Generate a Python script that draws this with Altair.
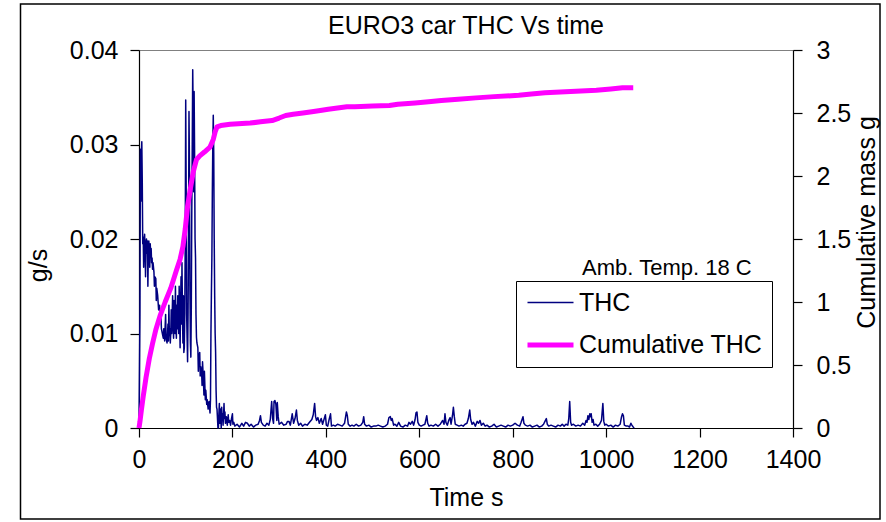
import altair as alt
import pandas as pd

# ---------------- data ----------------
time_s = [
    0, 2, 3, 4, 5, 6, 7, 8, 9, 10, 11, 12, 13, 14, 15, 16, 17, 18, 19, 20,
    21, 22, 23, 24, 25, 26, 27, 28, 29, 30, 32, 33, 34, 36, 37, 38, 40, 42, 44, 45,
    47, 48, 50, 52, 53, 55, 56, 57, 58, 60, 61, 62, 63, 64, 65, 66, 67, 68, 69, 70,
    72, 73, 74, 75, 76, 77, 78, 79, 80, 81, 82, 83, 84, 85, 86, 87, 88, 89, 90, 91,
    92, 93, 94, 95, 96, 97, 98, 99, 100, 101, 102, 103, 104, 105, 106, 107, 108, 109, 110, 111,
    112, 113, 114, 115, 116, 117, 118, 119, 120, 121, 122, 123, 124, 126, 127, 128, 130, 131, 132, 134,
    135, 136, 138, 139, 140, 142, 143, 145, 146, 148, 150, 152, 153, 154, 155, 156, 157, 158, 159, 160,
    161, 162, 163, 164, 165, 166, 167, 168, 169, 170, 171, 172, 173, 174, 175, 176, 177, 178, 179, 180,
    182, 183, 184, 185, 187, 189, 191, 192, 194, 196, 198, 200, 201, 203, 205, 210, 215, 220, 224, 228,
    232, 236, 240, 245, 250, 255, 258, 260, 262, 266, 270, 274, 278, 281, 284, 286, 288, 289, 291, 293,
    295, 296, 298, 300, 305, 310, 315, 318, 321, 324, 328, 331, 334, 337, 339, 342, 346, 350, 355, 360,
    365, 370, 373, 376, 378, 380, 383, 386, 390, 393, 396, 399, 401, 404, 407, 410, 412, 416, 420, 425,
    430, 435, 440, 444, 446, 448, 452, 456, 460, 465, 470, 475, 479, 481, 483, 487, 492, 497, 502, 507,
    512, 517, 522, 527, 532, 535, 538, 540, 542, 545, 548, 552, 556, 560, 565, 570, 575, 578, 581, 585,
    588, 591, 593, 595, 597, 600, 604, 608, 612, 616, 618, 621, 625, 630, 635, 640, 645, 650, 653, 655,
    657, 660, 663, 666, 668, 671, 673, 675, 677, 681, 685, 690, 694, 698, 702, 705, 708, 710, 713, 716,
    720, 724, 727, 730, 733, 737, 741, 745, 750, 755, 760, 765, 770, 775, 780, 785, 790, 795, 800, 805,
    810, 815, 818, 822, 824, 827, 832, 837, 842, 847, 852, 857, 862, 866, 869, 872, 874, 877, 882, 887,
    892, 897, 902, 906, 910, 914, 918, 920, 922, 924, 926, 930, 935, 940, 945, 950, 954, 957, 959, 961,
    963, 965, 967, 968, 970, 972, 974, 978, 982, 986, 990, 993, 995, 997, 1000, 1005, 1010, 1015, 1020, 1025,
    1030, 1033, 1035, 1037, 1039, 1043, 1047, 1050, 1053, 1055, 1058, 1060,
]
thc_gs = [
    0.0, 0.012, 0.0295, 0.024, 0.029, 0.0303, 0.026, 0.0195, 0.0202, 0.017, 0.0195, 0.0205, 0.019, 0.016, 0.0195, 0.02, 0.0185, 0.0198, 0.015, 0.0185,
    0.0198, 0.019, 0.017, 0.0195, 0.0185, 0.019, 0.0175, 0.018, 0.0168, 0.0175, 0.0165, 0.015, 0.016, 0.0158, 0.0135, 0.0148, 0.014, 0.0125, 0.013, 0.012,
    0.0118, 0.0105, 0.01, 0.0095, 0.0105, 0.0092, 0.0108, 0.012, 0.0095, 0.009, 0.0098, 0.011, 0.0092, 0.013, 0.0098, 0.0105, 0.009, 0.01, 0.0125, 0.01,
    0.014, 0.0108, 0.0095, 0.0135, 0.012, 0.01, 0.015, 0.011, 0.0095, 0.013, 0.0105, 0.014, 0.0115, 0.01, 0.015, 0.012, 0.0085, 0.013, 0.016, 0.011,
    0.0175, 0.0125, 0.009, 0.014, 0.008, 0.0085, 0.012, 0.02, 0.0347, 0.025, 0.012, 0.0095, 0.007, 0.012, 0.02, 0.0335, 0.028, 0.015, 0.009, 0.0075,
    0.013, 0.023, 0.03, 0.0379, 0.033, 0.025, 0.0356, 0.029, 0.02, 0.018, 0.012, 0.0096, 0.009, 0.0085, 0.006, 0.0075, 0.008, 0.0055, 0.0065, 0.006,
    0.0045, 0.007, 0.005, 0.0035, 0.006, 0.003, 0.004, 0.0025, 0.003, 0.002, 0.0028, 0.0016, 0.003, 0.01, 0.0143, 0.018, 0.025, 0.03, 0.0331, 0.029,
    0.02, 0.014, 0.01, 0.008, 0.004, 0.0022, 0.002, 0.001, 0.0, 0.0, 0.0015, 0.0026, 0.0005, 0.002, 0.0012, 0.0, 0.0022, 0.0008, 0.0015, 0.0003,
    0.0026, 0.001, 0.0017, 0.0005, 0.0012, 0.0003, 0.0014, 0.0006, 0.0008, 0.0003, 0.001, 0.0015, 0.0004, 0.0006, 0.0002, 0.0004, 0.0001, 0.0005, 0.0002, 0.0006,
    0.0005, 0.0002, 0.0004, 0.0001, 0.0003, 0.0004, 0.0008, 0.0013, 0.0006, 0.0003, 0.0002, 0.0005, 0.0003, 0.0009, 0.0028, 0.001, 0.0005, 0.0028, 0.0029, 0.0025,
    0.0008, 0.0027, 0.0012, 0.0004, 0.0006, 0.0003, 0.0004, 0.0007, 0.0007, 0.0003, 0.0015, 0.0005, 0.001, 0.0019, 0.0008, 0.0003, 0.0005, 0.0002, 0.0004, 0.0003,
    0.0006, 0.0009, 0.0014, 0.0026, 0.0012, 0.0008, 0.0011, 0.0005, 0.001, 0.0004, 0.0009, 0.0014, 0.0003, 0.0002, 0.0009, 0.0015, 0.0002, 0.0003, 0.0002, 0.0004,
    0.0003, 0.0002, 0.0005, 0.0017, 0.0013, 0.0004, 0.0002, 0.0003, 0.0002, 0.0004, 0.0002, 0.0003, 0.0006, 0.0012, 0.0004, 0.0002, 0.0003, 0.0001, 0.0002, 0.0002,
    0.0003, 0.0002, 0.0001, 0.0002, 0.0004, 0.0011, 0.0012, 0.0008, 0.001, 0.0003, 0.0004, 0.0002, 0.0006, 0.0002, 0.0001, 0.0003, 0.0002, 0.0006, 0.0004, 0.0007,
    0.0003, 0.0009, 0.0016, 0.0017, 0.0006, 0.0003, 0.0002, 0.0003, 0.0004, 0.0013, 0.0005, 0.0002, 0.0003, 0.0002, 0.0004, 0.0002, 0.0004, 0.0008, 0.0004, 0.0015,
    0.0006, 0.0003, 0.0008, 0.0011, 0.0004, 0.0013, 0.0022, 0.0012, 0.0004, 0.0003, 0.0002, 0.0003, 0.0002, 0.0004, 0.0005, 0.001, 0.0019, 0.0009, 0.0004, 0.0006,
    0.0002, 0.0007, 0.0005, 0.0008, 0.0003, 0.0005, 0.0002, 0.0003, 0.0001, 0.0002, 0.0004, 0.0001, 0.0002, 0.0003, 0.0002, 0.0001, 0.0003, 0.0002, 0.0003, 0.0005,
    0.0003, 0.0002, 0.0006, 0.0012, 0.0005, 0.0003, 0.0002, 0.0003, 0.0001, 0.0002, 0.0003, 0.0001, 0.0002, 0.0004, 0.0007, 0.001, 0.0004, 0.0002, 0.0003, 0.0002,
    0.0001, 0.0003, 0.0002, 0.0004, 0.0002, 0.0004, 0.0003, 0.001, 0.0028, 0.0006, 0.0003, 0.0004, 0.0002, 0.0003, 0.0002, 0.0005, 0.0003, 0.0008, 0.0006, 0.0013,
    0.0009, 0.0015, 0.0012, 0.0015, 0.0006, 0.0009, 0.0003, 0.0004, 0.0002, 0.0004, 0.0008, 0.0026, 0.0007, 0.0003, 0.0004, 0.0002, 0.0003, 0.0001, 0.0003, 0.0002,
    0.0004, 0.0012, 0.0015, 0.0013, 0.0003, 0.0002, 0.0002, 0.0001, 0.0005, 0.0003, 0.0001, 0.0,
]

cum_time_s = [
    0, 2, 5, 9, 15, 22, 29, 36, 45, 56, 68, 80, 88, 94, 99, 104, 110, 116, 123, 130,
    140, 152, 159, 163, 167, 175, 195, 238, 260, 285, 300, 314, 330, 351, 370, 388, 405, 425, 445, 462,
    500, 536, 554, 591, 620, 647, 683, 721, 760, 813, 840, 869, 924, 979, 1010, 1035, 1058,
]
cum_mass_g = [
    0.0, 0.05, 0.14, 0.25, 0.40, 0.55, 0.67, 0.78, 0.89, 1.00, 1.11, 1.25, 1.34, 1.44, 1.58, 1.76, 1.90, 2.03, 2.13, 2.16,
    2.19, 2.23, 2.29, 2.35, 2.39, 2.40, 2.41, 2.42, 2.43, 2.44, 2.46, 2.48, 2.49, 2.50, 2.51, 2.52, 2.53, 2.54, 2.55, 2.55,
    2.555, 2.56, 2.57, 2.58, 2.59, 2.60, 2.61, 2.62, 2.63, 2.64, 2.65, 2.66, 2.67, 2.68, 2.69, 2.70, 2.70,
]

series_names = ["THC", "Cumulative THC"]
series_colors = ["#000080", "#FF00FF"]
series_widths = [1.5, 5]

x_ticks = [0, 200, 400, 600, 800, 1000, 1200, 1400]
left_ticks = [0, 0.01, 0.02, 0.03, 0.04]
right_ticks = [0, 0.5, 1, 1.5, 2, 2.5, 3]

note_text = ["Amb. Temp. 18 C"]
note_t = [1130]
note_v = [0.0169]

# ---------------- chart ----------------
FONT = "Liberation Sans"
FS = 25

thc_df = pd.DataFrame({"t": time_s, "v": thc_gs, "series": "THC"})
cum_df = pd.DataFrame({"t": cum_time_s, "v": cum_mass_g, "series": "Cumulative THC"})
note_df = pd.DataFrame({"t": note_t, "v": note_v, "label": note_text})
frame_df = pd.DataFrame({"k": [0]})

legend_common = dict(
    title=None, orient="none", legendX=377, legendY=231,
    symbolType="M-1,0L3,0", symbolSize=529, symbolStrokeWidth=1.5,
    labelFont=FONT, labelFontSize=FS, labelColor="black", labelOffset=26,
    labelLimit=0, fillColor="white", strokeColor="black", padding=9,
    rowPadding=15, cornerRadius=0,
)

color = alt.Color("series:N",
                  scale=alt.Scale(domain=series_names, range=series_colors),
                  legend=alt.Legend(**legend_common))
width_enc = alt.StrokeWidth("series:N",
                            scale=alt.Scale(domain=series_names, range=series_widths),
                            legend=alt.Legend(**legend_common))

x_enc = alt.X("t:Q", scale=alt.Scale(domain=[0, 1400], nice=False, zero=False),
              axis=alt.Axis(values=x_ticks, format="d", title="Time s",
                            labelPadding=10, titlePadding=13))

left_y = alt.Y("v:Q", scale=alt.Scale(domain=[0, 0.04], nice=False),
               axis=alt.Axis(orient="left", values=left_ticks, format="~g", title="g/s",
                             labelPadding=12, titleAngle=270, titleX=-101, titleY=215,
                             titleAlign="center", titleBaseline="middle"))

right_y = alt.Y("v:Q", scale=alt.Scale(domain=[0, 3], nice=False),
                axis=alt.Axis(orient="right", values=right_ticks, format="~g",
                              title="Cumulative mass g", labelPadding=14, tickSize=9,
                              titleAngle=270, titleX=73, titleY=172,
                              titleAlign="center", titleBaseline="middle"))

thc_line = alt.Chart(thc_df).mark_line(strokeJoin="round").encode(
    x=x_enc, y=left_y, color=color, strokeWidth=width_enc, order="t:Q")

note = alt.Chart(note_df).mark_text(font=FONT, fontSize=22, color="black",
                                    align="center", baseline="middle").encode(
    x=x_enc, y=left_y, text="label:N")

cum_line = alt.Chart(cum_df).mark_line(strokeJoin="round").encode(
    x=x_enc, y=right_y, color=color, strokeWidth=width_enc, order="t:Q")

frame = alt.Chart(frame_df).mark_rect(fillOpacity=0, stroke="black", strokeWidth=1.5).encode(
    x=alt.value(-118.5), x2=alt.value(741), y=alt.value(-46), y2=alt.value(469))

left_group = alt.layer(thc_line, note)

chart = alt.layer(left_group, cum_line, frame).resolve_scale(
    y="independent"
).properties(
    width=654, height=378,
    title=alt.TitleParams("EURO3 car THC Vs time", font=FONT, fontSize=FS,
                          fontWeight="normal", color="black", anchor="middle",
                          baseline="alphabetic", offset=-56),
    autosize=alt.AutoSizeParams(type="none"),
    padding={"left": 139, "top": 50, "right": 93, "bottom": 94},
).configure(
    background="white",
).configure_view(
    stroke="#808080", strokeWidth=1,
).configure_axis(
    grid=False, domainColor="black", tickColor="black", labelColor="black",
    titleColor="black", labelFont=FONT, titleFont=FONT, labelFontSize=FS,
    titleFontSize=FS, titleFontWeight="normal", tickSize=9, domainWidth=1.2,
    tickWidth=1.2, labelFlush=False, labelOverlap=False,
)

chart.save("out.html", embed_options={"renderer": "svg", "actions": False})
